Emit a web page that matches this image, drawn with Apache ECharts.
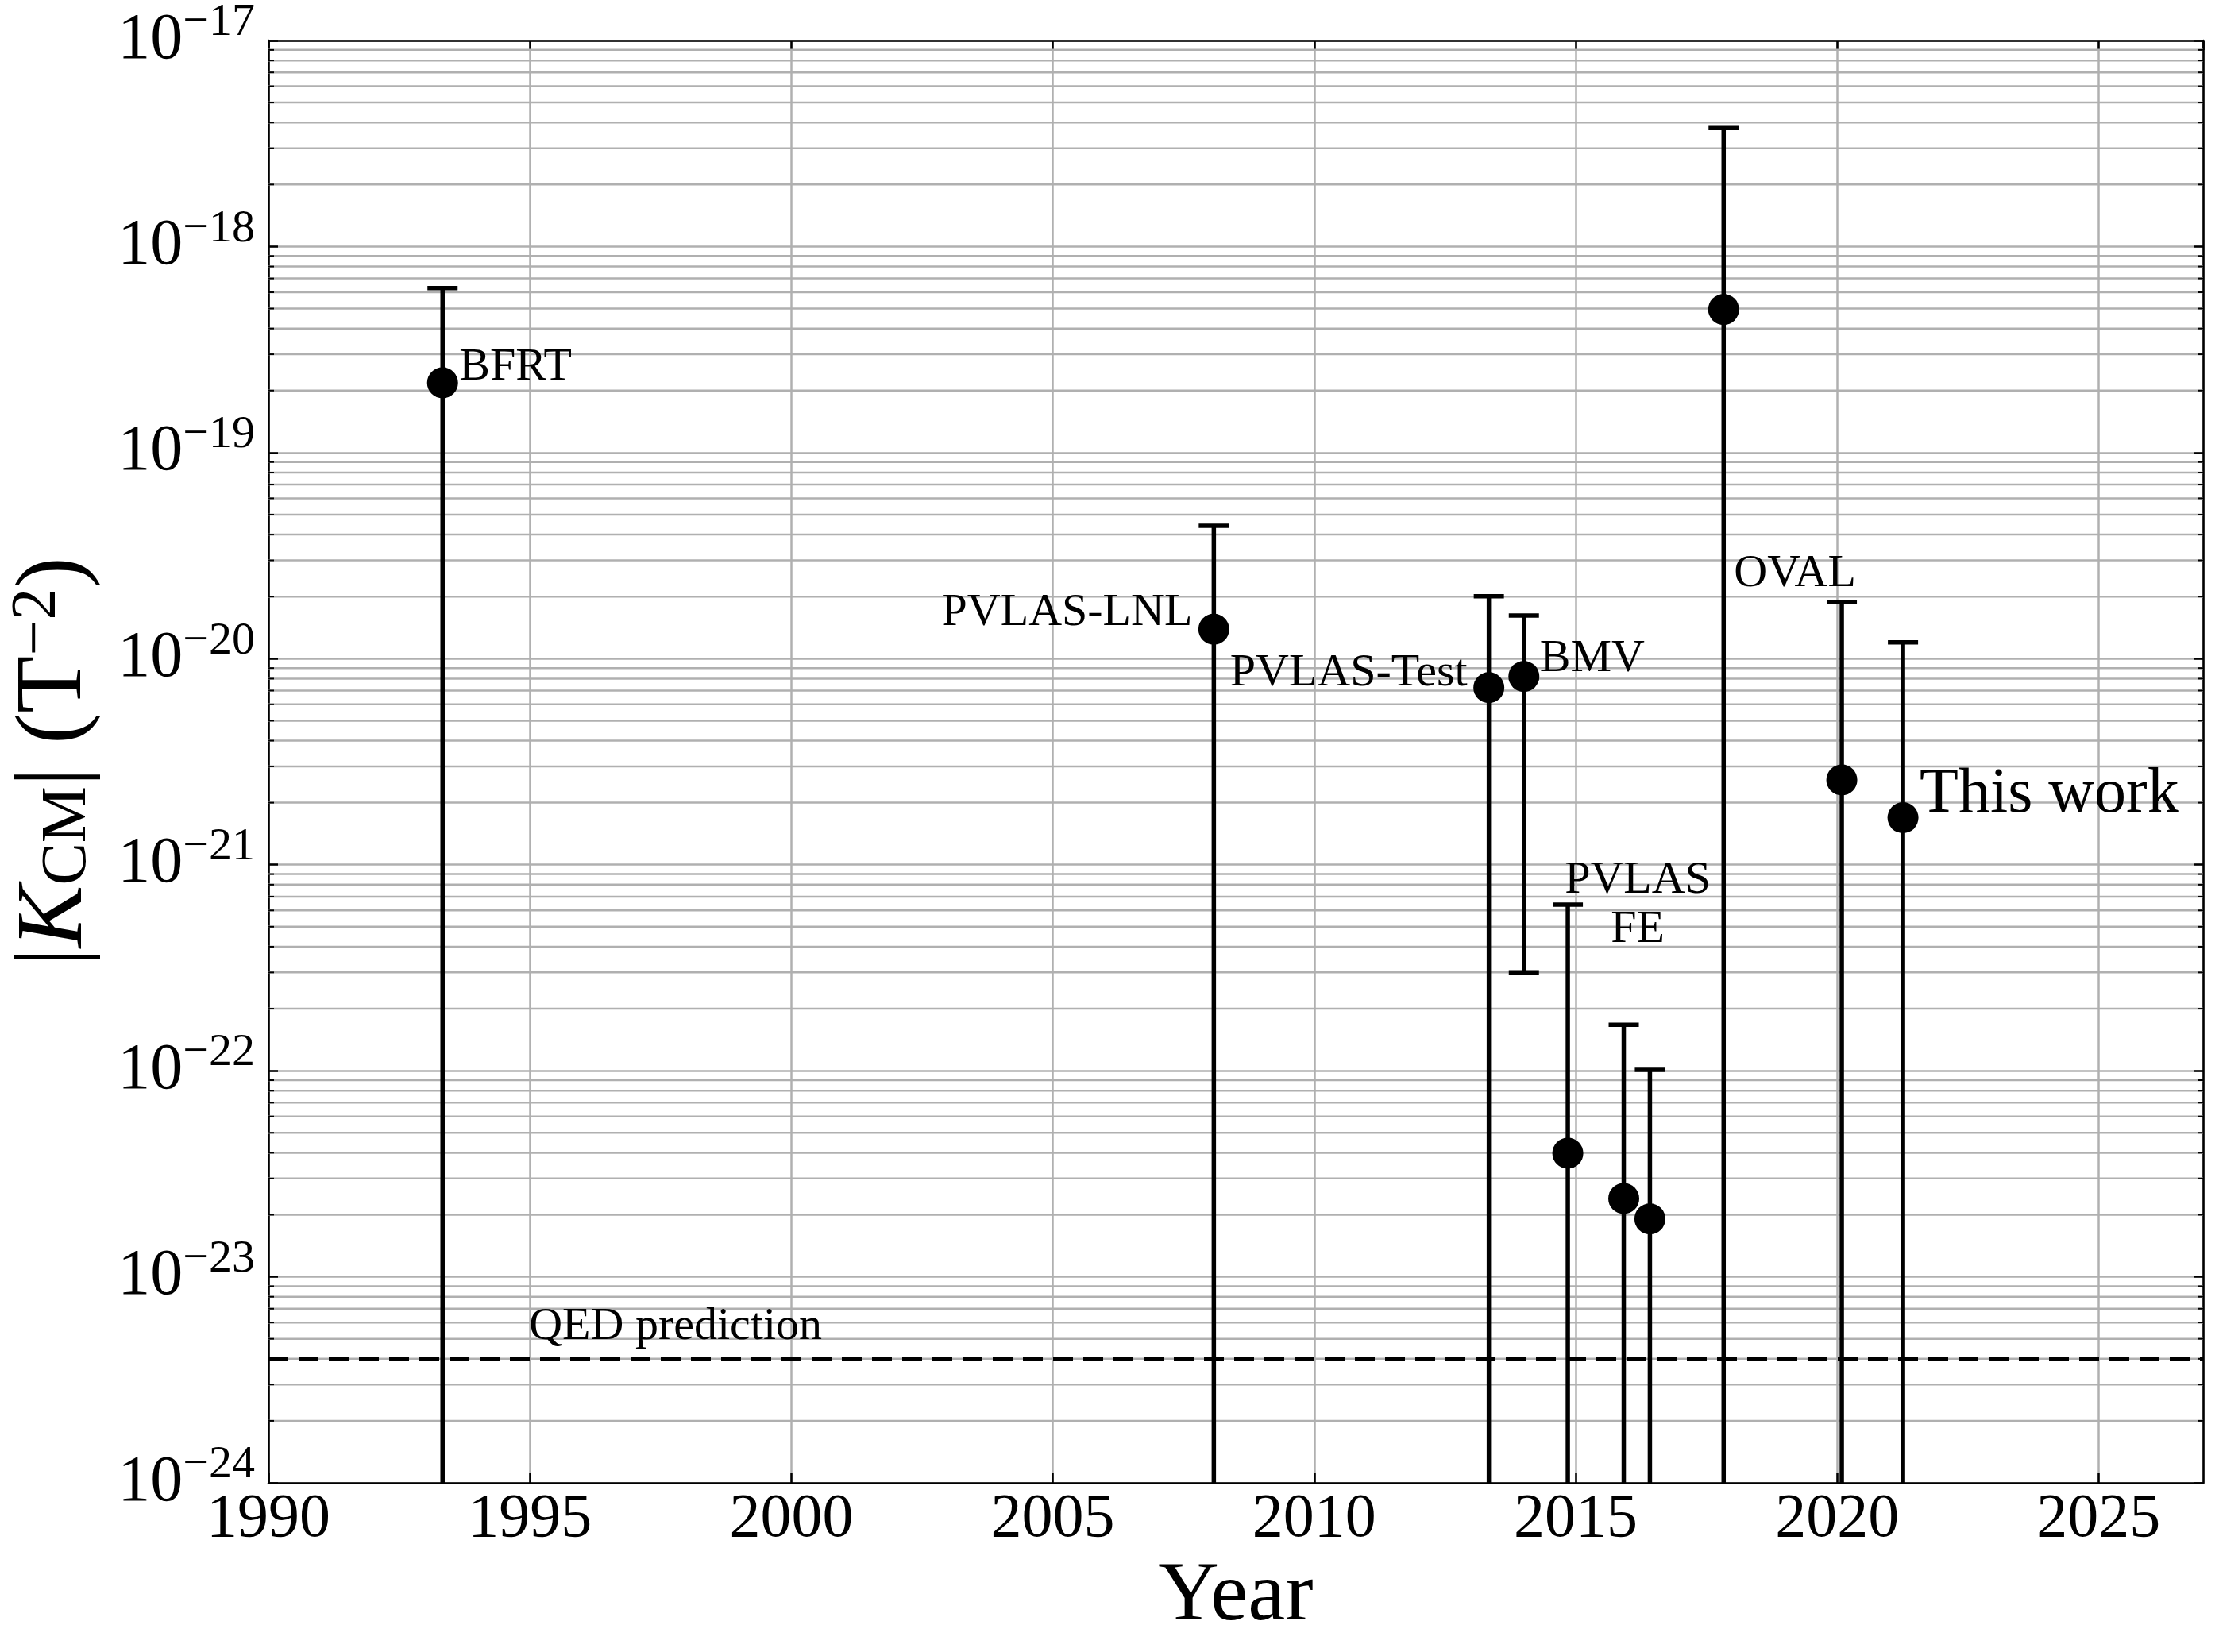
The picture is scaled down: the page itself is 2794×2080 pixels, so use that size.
<!DOCTYPE html>
<html>
<head>
<meta charset="utf-8">
<script src="https://cdn.jsdelivr.net/npm/echarts@6/dist/echarts.min.js"></script>
<style>
  html, body { margin: 0; padding: 0; background: #fff; }
  #chart { width: 2794px; height: 2080px; }
</style>
</head>
<body>
<div id="chart"></div>
<script>
  const years = [1993.33, 2008.08, 2013.34, 2014.01, 2014.85, 2015.92, 2016.42, 2017.83, 2020.09, 2021.26]
  const kValues = [2.18e-19, 1.39e-20, 7.24e-21, 8.2e-21, 3.98e-23, 2.4e-23, 1.91e-23, 4.95e-19, 2.58e-21, 1.69e-21]
  const upperBounds = [6.29e-19, 4.41e-20, 2.01e-20, 1.62e-20, 6.4e-22, 1.67e-22, 1.01e-22, 3.76e-18, 1.88e-20, 1.2e-20]
  const lowerBounds = [null, null, null, 3.0e-22, null, null, null, null, null, null]
  const qedPrediction = 4.0e-24
  const qedLabelYear = 1995

  const labelTexts = ['BFRT', 'PVLAS-LNL', 'PVLAS-Test', 'BMV', 'PVLAS\nFE', 'OVAL', 'This work']
  const labelPoints = [0, 1, 2, 3, 4, 7, 9]

  const xMin = 1990
  const xMax = 2027
  const yMin = 1e-24
  const yMax = 1e-17

  // echarts' log scale loses precision on values this small, so plot in units of 1e-24
  const unit = 1e-24
  const u = (v) => v / unit

  // label placement (pixels relative to the point)
  const labelStyles = [
    { align: 'left', offset: [21, -19], fontSize: 58 },
    { align: 'right', offset: [-27, -20], fontSize: 58 },
    { align: 'right', offset: [-27, -18], fontSize: 58 },
    { align: 'left', offset: [20, -22], fontSize: 58 },
    { align: 'center', offset: [88, -312], fontSize: 58 },
    { align: 'left', offset: [13, 333], fontSize: 58 },
    { align: 'left', offset: [21, -29], fontSize: 80 }
  ]

  const serif = 'Liberation Serif'
  const gridGray = '#b0b0b0'

  // minor decade lines 2..9 x 10^n
  const minorValues = []
  for (let e = -24; e < -17; e++) {
    for (let m = 2; m <= 9; m++) minorValues.push(m * Math.pow(10, e))
  }

  const chart = echarts.init(document.getElementById('chart'))

  const expLabel = (v) => {
    const e = Math.round(Math.log10(v * unit))
    return '{b|10}{e|\u2212' + Math.abs(e) + '}'
  }

  const errorData = years.map((y, i) => [
    y,
    u(lowerBounds[i] == null ? yMin : lowerBounds[i]),
    u(upperBounds[i]),
    lowerBounds[i] == null ? 0 : 1
  ])

  const labelBase = { show: true, color: '#000', fontFamily: serif, position: 'inside', verticalAlign: 'middle' }

  const annotations = labelTexts.map((t, i) => {
    const p = labelPoints[i]
    const s = labelStyles[i]
    return {
      value: [years[p], u(kValues[p])],
      label: Object.assign({}, labelBase, {
        formatter: t,
        align: s.align,
        offset: s.offset,
        fontSize: s.fontSize,
        lineHeight: 62
      })
    }
  })
  annotations.push({
    value: [qedLabelYear, u(qedPrediction)],
    label: Object.assign({}, labelBase, {
      formatter: 'QED prediction',
      align: 'left',
      offset: [-1, -40],
      fontSize: 58
    })
  })

  const axisLineStyle = { color: '#000', width: 2.5 }
  const tickStyle = { show: true, inside: true, length: 12, lineStyle: { color: '#000', width: 2.5 } }

  const option = {
    animation: false,
    backgroundColor: '#fff',
    textStyle: { fontFamily: serif, color: '#000' },
    grid: { left: 334, right: 20, top: 47, bottom: 213 },
    xAxis: [
      {
        type: 'value',
        min: xMin,
        max: xMax,
        interval: 5,
        name: 'Year',
        nameLocation: 'middle',
        nameGap: 86,
        nameTextStyle: { fontSize: 106, fontFamily: serif, color: '#000' },
        axisLine: { show: true, onZero: false, lineStyle: axisLineStyle },
        axisTick: tickStyle,
        axisLabel: {
          fontSize: 78,
          fontFamily: serif,
          color: '#000',
          margin: 8,
          showMaxLabel: false,
          formatter: (v) => String(v)
        },
        splitLine: { show: true, lineStyle: { color: gridGray, width: 2.5 } }
      },
      {
        type: 'value',
        position: 'top',
        min: xMin,
        max: xMax,
        interval: 5,
        axisLine: { show: true, onZero: false, lineStyle: axisLineStyle },
        axisTick: tickStyle,
        axisLabel: { show: false },
        splitLine: { show: false }
      }
    ],
    yAxis: [
      {
        type: 'log',
        logBase: 10,
        min: u(yMin),
        max: u(yMax),
        name: '{a||}{k|K}{s|CM}{a|| (T}{p|\u22122}{a|)}',
        nameLocation: 'middle',
        nameRotate: 90,
        nameGap: 205,
        nameTextStyle: {
          fontFamily: serif,
          color: '#000',
          rich: {
            a: { fontSize: 118, fontFamily: serif },
            k: { fontSize: 118, fontFamily: serif, fontStyle: 'italic' },
            s: { fontSize: 80, fontFamily: serif, padding: [30, 0, 0, 0] },
            p: { fontSize: 80, fontFamily: serif, padding: [0, 0, 45, 0] }
          }
        },
        axisLine: { show: true, onZero: false, lineStyle: axisLineStyle },
        axisTick: tickStyle,
        axisLabel: {
          margin: 17,
          formatter: expLabel,
          rich: {
            b: { fontSize: 82, fontFamily: serif, color: '#000' },
            e: { fontSize: 58, fontFamily: serif, color: '#000', padding: [0, 0, 44, 0] }
          }
        },
        splitLine: { show: true, lineStyle: { color: gridGray, width: 2.5 } }
      },
      {
        type: 'log',
        logBase: 10,
        position: 'right',
        min: u(yMin),
        max: u(yMax),
        axisLine: { show: true, onZero: false, lineStyle: axisLineStyle },
        axisTick: tickStyle,
        axisLabel: { show: false },
        splitLine: { show: false }
      }
    ],
    series: [
      {
        name: 'minor grid',
        type: 'custom',
        silent: true,
        z: 1,
        data: minorValues.map((v) => [xMin, u(v)]),
        renderItem: (params, api) => {
          const cs = params.coordSys
          const y = api.coord([xMin, api.value(1)])[1]
          const x0 = cs.x
          const x1 = cs.x + cs.width
          return {
            type: 'group',
            children: [
              { type: 'line', shape: { x1: x0, y1: y, x2: x1, y2: y }, style: { stroke: gridGray, lineWidth: 2.5 } },
              { type: 'line', shape: { x1: x0, y1: y, x2: x0 + 7, y2: y }, style: { stroke: '#000', lineWidth: 2 } },
              { type: 'line', shape: { x1: x1 - 7, y1: y, x2: x1, y2: y }, style: { stroke: '#000', lineWidth: 2 } }
            ]
          }
        }
      },
      {
        name: 'error bars',
        type: 'custom',
        z: 3,
        clip: true,
        data: errorData,
        renderItem: (params, api) => {
          const x = api.value(0)
          const top = api.coord([x, api.value(2)])
          const bot = api.coord([x, api.value(1)])
          const half = 19
          const style = { stroke: '#000', lineWidth: 5.5 }
          const children = [
            { type: 'line', shape: { x1: top[0], y1: top[1], x2: bot[0], y2: bot[1] }, style },
            { type: 'line', shape: { x1: top[0] - half, y1: top[1], x2: top[0] + half, y2: top[1] }, style }
          ]
          if (api.value(3)) {
            children.push({ type: 'line', shape: { x1: bot[0] - half, y1: bot[1], x2: bot[0] + half, y2: bot[1] }, style })
          }
          return { type: 'group', children }
        }
      },
      {
        name: 'K_CM',
        type: 'scatter',
        z: 4,
        symbol: 'circle',
        symbolSize: 39,
        itemStyle: { color: '#000', opacity: 1 },
        data: years.map((y, i) => [y, u(kValues[i])]),
        markLine: {
          silent: true,
          symbol: 'none',
          label: { show: false },
          lineStyle: { color: '#000', width: 5, type: [25, 13], opacity: 1 },
          data: [{ yAxis: u(qedPrediction) }]
        }
      },
      {
        name: 'labels',
        type: 'scatter',
        z: 5,
        silent: true,
        symbolSize: 0,
        itemStyle: { color: '#000', opacity: 1 },
        data: annotations
      }
    ]
  }

  chart.setOption(option)
</script>
</body>
</html>
